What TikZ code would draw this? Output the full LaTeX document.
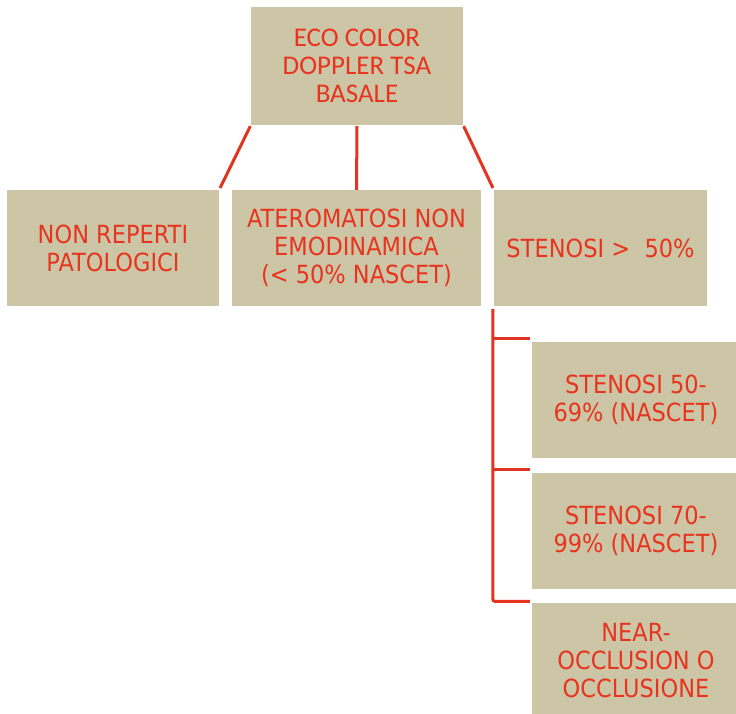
\documentclass[tikz,border=0pt]{standalone}
\usepackage{fontspec}
\newfontfamily\headfont{Carlito}
\newfontfamily\boxfont[FakeStretch=0.9]{DejaVu Sans}
\definecolor{boxtan}{RGB}{205,198,166}
\definecolor{txtred}{RGB}{232,52,30}
\definecolor{linkred}{RGB}{226,52,32}
\tikzset{
  box/.style={draw=none, fill=boxtan, align=center, inner sep=0pt,
    text=txtred, font=\boxfont\fontsize{25}{28}\selectfont},
  headbox/.style={box, font=\headfont\fontsize{27}{28}\selectfont},
  link/.style={draw=linkred, line width=3pt},
}
\begin{document}
\begin{tikzpicture}[x=1pt,y=1pt]
  \useasboundingbox (0,0) rectangle (736,-714);
  \clip (0,0) rectangle (736,-714);
  \fill[white] (0,0) rectangle (736,-714);

  % root
  \node[headbox, minimum width=212pt, minimum height=118pt] (top) at (357,-66)
    {ECO COLOR\\DOPPLER TSA\\BASALE};

  % first level
  \node[box, minimum width=212pt, minimum height=116pt] (b1) at (113,-248)
    {NON REPERTI\\PATOLOGICI};
  \node[box, minimum width=249pt, minimum height=116pt] (b2) at (356.5,-248)
    {ATEROMATOSI NON\\EMODINAMICA\\(< 50\% NASCET)};
  \node[box, minimum width=213pt, minimum height=116pt] (b3) at (600.5,-248)
    {STENOSI >\ \ 50\%};

  % second level
  \node[box, minimum width=208pt, minimum height=116pt] (b4) at (636,-400)
    {STENOSI 50-\\69\% (NASCET)};
  \node[box, minimum width=208pt, minimum height=116pt] (b5) at (636,-531)
    {STENOSI 70-\\99\% (NASCET)};
  \node[box, minimum width=208pt, minimum height=116pt] (b6) at (636,-661)
    {NEAR-\\OCCLUSION O\\OCCLUSIONE};

  % connectors from the root
  \draw[link, shorten <=1pt, shorten >=2pt] (top.south west) -- (b1.north east);
  \draw[link, shorten <=1pt] (top.south) -- (b2.north);
  \draw[link, shorten <=1pt, shorten >=2pt] (top.south east) -- (b3.north west);

  % bracket to the grades of stenosis
  \coordinate (t0) at ([xshift=-1pt,yshift=-3pt]b3.south west);
  \coordinate (t1) at ([xshift=-2pt,yshift=3pt]b4.north west);
  \coordinate (t2) at ([xshift=-2pt,yshift=3pt]b5.north west);
  \coordinate (t3) at ([xshift=-2pt,yshift=1.5pt]b6.north west);
  \draw[link, rounded corners=2pt] (t0) |- (t3);
  \draw[link] (t1) -- (t1 -| t0);
  \draw[link] (t2) -- (t2 -| t0);
\end{tikzpicture}
\end{document}
